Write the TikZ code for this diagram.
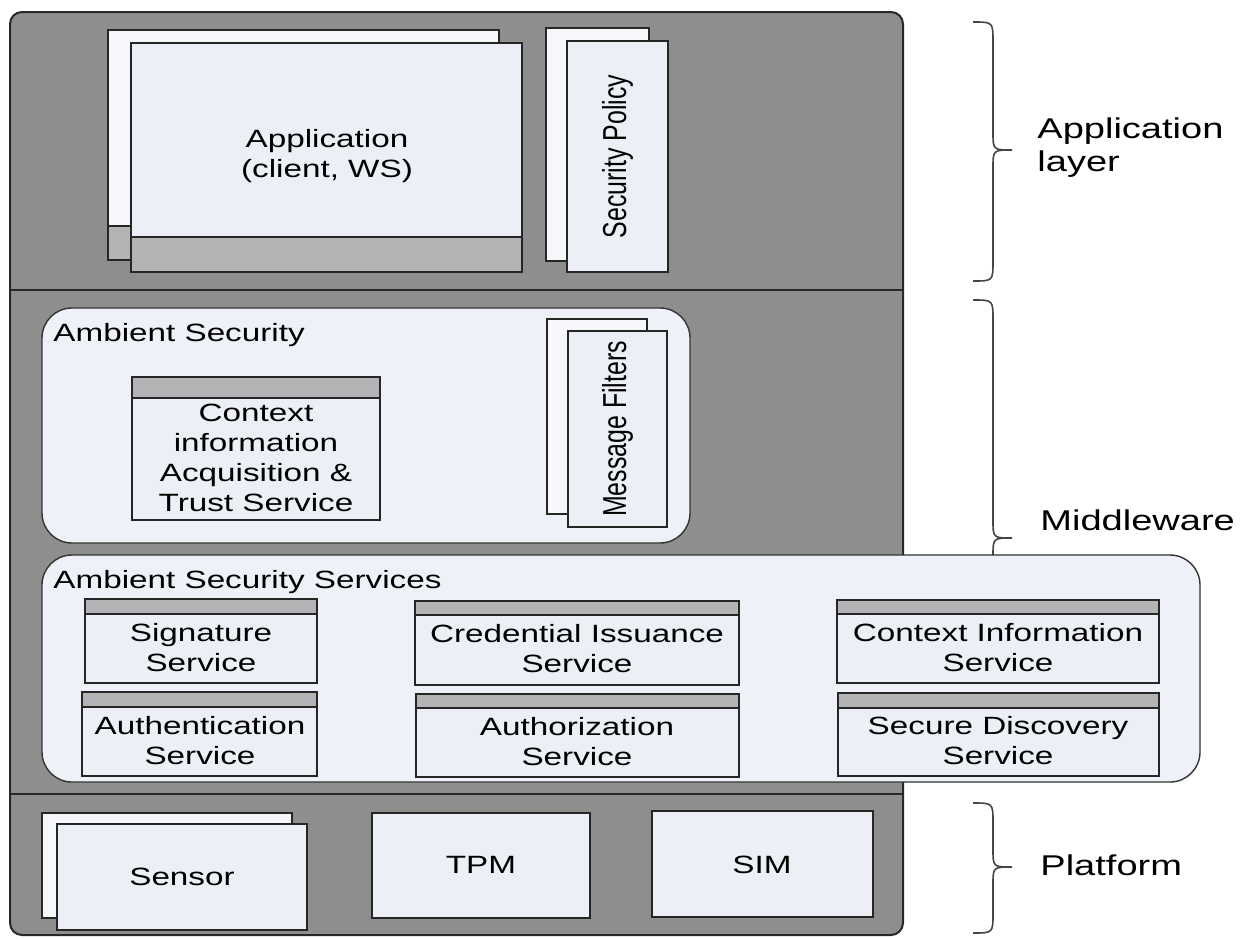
\documentclass[tikz,border=0pt]{standalone}
\usepackage{fontspec}
\setmainfont{Liberation Sans}[FakeStretch=1.33]
\newfontfamily\uprightfont{Liberation Sans}[FakeStretch=0.75]
\usetikzlibrary{fit}

\definecolor{panelgrey}{RGB}{142,142,142}
\definecolor{panelline}{RGB}{40,40,40}
\definecolor{boxfill}{RGB}{236,239,245}
\definecolor{backfill}{RGB}{245,247,251}
\definecolor{bandfill}{RGB}{180,180,182}
\definecolor{groupfill}{RGB}{238,241,247}
\definecolor{bracecol}{RGB}{70,70,70}

% curly brace on the right: top end, tip, bottom end
\newcommand{\layerbrace}[3]{%
  \draw[bracepath] (973,#1) .. controls (993,#1) .. (993,#1+20)
    -- (993,#2-18) .. controls (993,#2) .. (1012,#2)
    .. controls (993,#2) .. (993,#2+18)
    -- (993,#3-20) .. controls (993,#3) .. (973,#3);}

\begin{document}
\begin{tikzpicture}[x=0.5pt,y=-0.5pt,
  box/.style={draw=black!85, line width=0.6pt, fill=boxfill, inner sep=0pt},
  backbox/.style={box, fill=backfill},
  band/.style={draw=black!85, line width=0.6pt, fill=bandfill},
  group/.style={draw=black!80, line width=0.7pt, fill=groupfill, rounded corners=15pt, inner sep=0pt},
  lbl/.style={font=\fontsize{12.5}{15}\selectfont, align=center, inner sep=0pt},
  vlbl/.style={font=\uprightfont\fontsize{16.6}{19}\selectfont, rotate=90, inner sep=0pt},
  title/.style={font=\fontsize{12.5}{15}\selectfont, anchor=west, inner sep=0pt},
  side/.style={font=\fontsize{14.3}{16.5}\selectfont, align=left, anchor=west, inner sep=0pt},
  bracepath/.style={draw=bracecol, line width=0.8pt}]

\useasboundingbox (0,0) rectangle (1247,938);
\fill[white] (0,0) rectangle (1247,938);

% layer braces
\layerbrace{22}{150}{281}
\layerbrace{300}{538}{600}
\layerbrace{803}{867}{933}

% grey stack of layers
\node[draw=panelline, line width=1pt, fill=panelgrey, rounded corners=6pt,
      inner sep=0pt, fit={(10,12) (903,935)}] (panel) {};
\draw[panelline, line width=1.2pt] (10,290) -- (903,290);
\draw[panelline, line width=1.2pt] (10,794) -- (903,794);

% application layer
\node[backbox, fit={(108,30) (499,260)}] (appback) {};
\draw[band] (108,226) rectangle (499,260);
\node[box, fit={(131,43) (522,272)}] (app) {};
\draw[band] (131,237) rectangle (522,272);
\node[lbl] (appT) at (327,156) {Application\\(client, WS)};

\node[backbox, fit={(546,28) (649,261)}] (polback) {};
\node[box, fit={(567,41) (668,272)}] (pol) {};
\node[vlbl] (polT) at (pol.center) {Security Policy};

% middleware: ambient security
\node[group, fit={(42,308) (690,543)}] (amb) {};
\node[title] (ambT) at (53,335) {Ambient Security};
\node[box, fit={(132,377) (380,520)}] (ctx) {};
\draw[band] (132,377) rectangle (380,398);
\node[lbl] (ctxT) at (256,458) {Context\\information\\Acquisition \&\\Trust Service};
\node[backbox, fit={(547,319) (647,514)}] (mfback) {};
\node[box, fit={(568,331) (667,527)}] (mf) {};
\node[vlbl] (mfT) at (mf.center) {Message Filters};

% middleware: ambient security services
\node[group, fit={(42,555) (1200,782)}] (svc) {};
\node[title] (svcT) at (53,582) {Ambient Security Services};

\node[box, fit={(85,599) (317,683)}] (sig) {};
\draw[band] (85,599) rectangle (317,614);
\node[lbl] (sigT) at (201,648) {Signature\\Service};

\node[box, fit={(415,601) (739,685)}] (cred) {};
\draw[band] (415,601) rectangle (739,615);
\node[lbl] (credT) at (577,649) {Credential Issuance\\Service};

\node[box, fit={(837,600) (1159,683)}] (cis) {};
\draw[band] (837,600) rectangle (1159,614);
\node[lbl] (cisT) at (998,648) {Context Information\\Service};

\node[box, fit={(82,692) (317,776)}] (authn) {};
\draw[band] (82,692) rectangle (317,707);
\node[lbl] (authnT) at (200,741) {Authentication\\Service};

\node[box, fit={(416,694) (739,777)}] (authz) {};
\draw[band] (416,694) rectangle (739,708);
\node[lbl] (authzT) at (577,742) {Authorization\\Service};

\node[box, fit={(838,693) (1159,776)}] (disc) {};
\draw[band] (838,693) rectangle (1159,708);
\node[lbl] (discT) at (998,741) {Secure Discovery\\Service};

% platform
\node[backbox, fit={(42,813) (292,918)}] (senback) {};
\node[box, fit={(57,824) (307,930)}] (sen) {};
\node[lbl] (senT) at (sen.center) {Sensor};
\node[box, fit={(372,813) (590,918)}] (tpm) {};
\node[lbl] (tpmT) at (481,865) {TPM};
\node[box, fit={(652,811) (873,917)}] (sim) {};
\node[lbl] (simT) at (762,865) {SIM};

% layer names
\node[side] (appL) at (1037,148) {Application\\layer};
\node[side] (midL) at (1040,520) {Middleware};
\node[side] (platL) at (1040,865) {Platform};
\end{tikzpicture}
\end{document}
